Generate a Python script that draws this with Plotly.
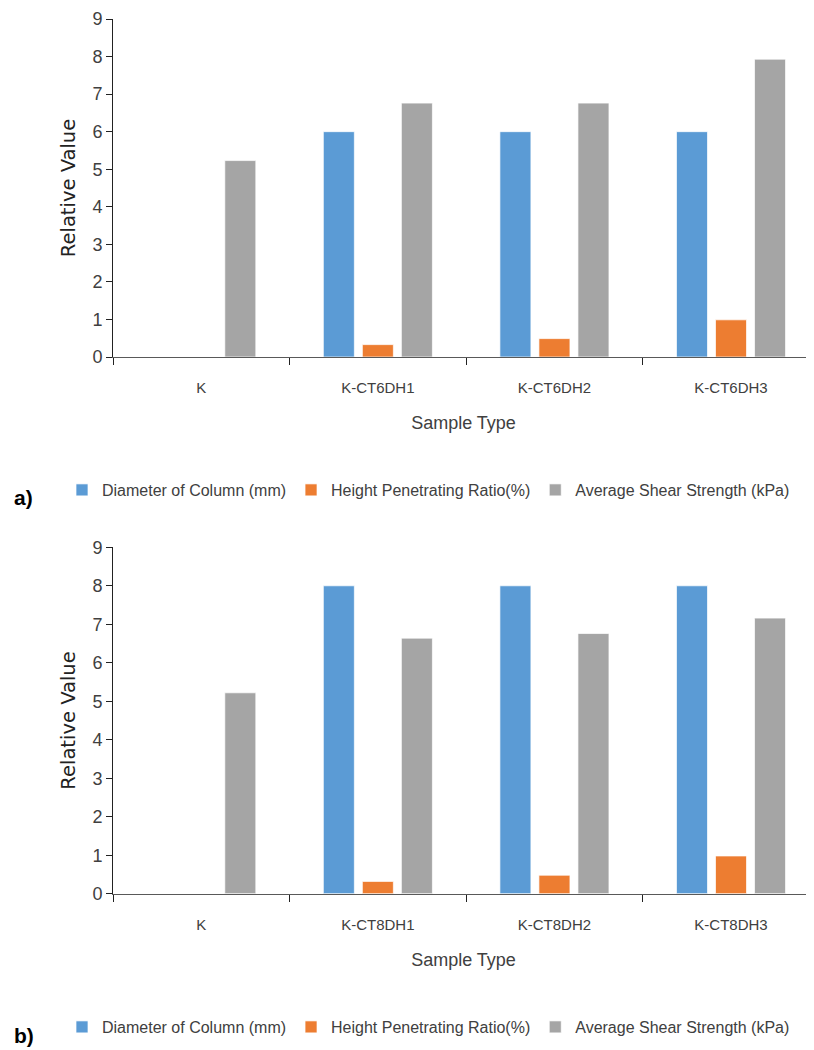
import plotly.graph_objects as go

# page is rendered with an 8px body margin; size the figure to fill the rest
PAD = 8
W, H = 814 - PAD, 1050 - PAD

categories_a = ["K", "K-CT6DH1", "K-CT6DH2", "K-CT6DH3"]
categories_b = ["K", "K-CT8DH1", "K-CT8DH2", "K-CT8DH3"]

diameter_a = [None, 6, 6, 6]
height_ratio_a = [None, 0.33, 0.49, 0.99]
shear_a = [5.23, 6.76, 6.76, 7.93]

diameter_b = [None, 8, 8, 8]
height_ratio_b = [None, 0.32, 0.48, 0.98]
shear_b = [5.22, 6.64, 6.76, 7.16]

series_names = ["Diameter of Column (mm)", "Height Penetrating Ratio(%)", "Average Shear Strength (kPa)"]
colors = ["#5B9BD5", "#ED7D31", "#A5A5A5"]
y_ticks = [0, 1, 2, 3, 4, 5, 6, 7, 8, 9]

MAIN_FONT = "Liberation Sans, Arial, sans-serif"
TEXT_COL = "#404040"


def fx(px):
    return (px - PAD) / W


def fy(py):
    return 1 - (py - PAD) / H


fig = go.Figure()

for cats, vals_list, xa, ya, lg in [
    (categories_a, [diameter_a, height_ratio_a, shear_a], "x", "y", "legend"),
    (categories_b, [diameter_b, height_ratio_b, shear_b], "x2", "y2", "legend2"),
]:
    for name, vals, col in zip(series_names, vals_list, colors):
        fig.add_trace(go.Bar(
            x=cats, y=vals, name=name, xaxis=xa, yaxis=ya, legend=lg,
            marker=dict(color=col, line=dict(color="rgba(255,255,255,0.7)", width=1)),
        ))

xaxis_common = dict(
    domain=[fx(113), 1], range=[-0.5, 3.47], type="category",
    showline=True, linecolor="#595959", linewidth=1.3,
    ticks="outside", ticklen=7, tickcolor="#222222", tickwidth=1,
    tickson="boundaries", showgrid=False, zeroline=False,
    tickfont=dict(family=MAIN_FONT, size=15, color=TEXT_COL),
    ticklabelstandoff=17,
    title=dict(text="Sample Type", font=dict(family=MAIN_FONT, size=18, color=TEXT_COL), standoff=21),
    automargin=False, fixedrange=True,
)
yaxis_common = dict(
    range=[0, 9], tickvals=y_ticks, showline=True, linecolor="#222222", linewidth=1,
    ticks="outside", ticklen=6, tickcolor="#222222", showgrid=False, zeroline=False,
    tickfont=dict(family=MAIN_FONT, size=18, color=TEXT_COL),
    title=dict(text="Relative Value", font=dict(family="DejaVu Sans", size=19.5, color="#222222"), standoff=11),
    automargin=False, fixedrange=True,
)

fig.update_layout(
    width=W, height=H,
    margin=dict(l=0, r=0, t=0, b=0),
    paper_bgcolor="white", plot_bgcolor="white",
    barmode="group", bargap=0.337, bargroupgap=0.205,
    xaxis=dict(**xaxis_common, anchor="y"),
    yaxis=dict(**yaxis_common, domain=[fy(357), fy(19)], anchor="x"),
    xaxis2=dict(**xaxis_common, anchor="y2"),
    yaxis2=dict(**yaxis_common, domain=[fy(893.7), fy(547.3)], anchor="x2"),
    legend=dict(orientation="h", x=fx(62), xanchor="left", y=fy(490), yanchor="middle",
                font=dict(family=MAIN_FONT, size=16, color=TEXT_COL), bgcolor="rgba(0,0,0,0)"),
    legend2=dict(orientation="h", x=fx(62), xanchor="left", y=fy(1027), yanchor="middle",
                 font=dict(family=MAIN_FONT, size=16, color=TEXT_COL), bgcolor="rgba(0,0,0,0)"),
    showlegend=True,
    annotations=[
        dict(text="<b>a)</b>", x=fx(12), y=fy(497), xref="paper", yref="paper",
             xanchor="left", yanchor="middle", showarrow=False,
             font=dict(family="Liberation Sans, Arial", size=21, color="black")),
        dict(text="<b>b)</b>", x=fx(12), y=fy(1035), xref="paper", yref="paper",
             xanchor="left", yanchor="middle", showarrow=False,
             font=dict(family="Liberation Sans, Arial", size=21, color="black")),
    ],
)

fig.write_html("out.html")
